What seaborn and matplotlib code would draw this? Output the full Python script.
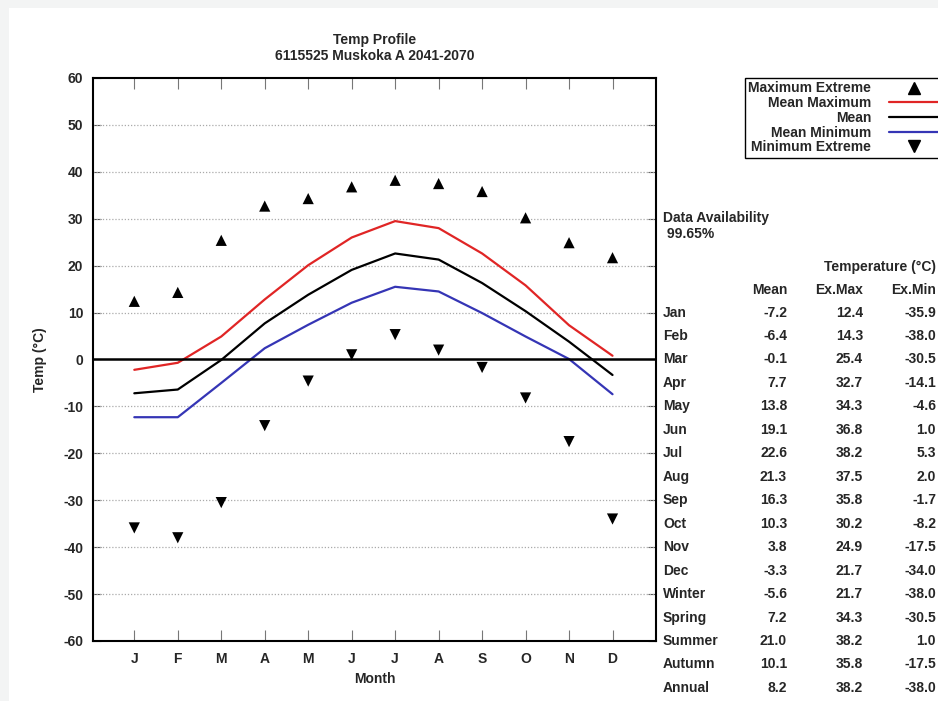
import matplotlib
matplotlib.use("Agg")
import matplotlib.pyplot as plt
import matplotlib.transforms as mtransforms
from matplotlib.lines import Line2D
from matplotlib.patches import Rectangle
import seaborn as sns
import pandas as pd

# ---- data ----
months = list(range(1, 13))
month_ticks = ["J", "F", "M", "A", "M", "J", "J", "A", "S", "O", "N", "D"]
mean_max = [-2.2, -0.7, 4.9, 12.8, 20.1, 26.0, 29.5, 28.0, 22.6, 15.8, 7.3, 0.8]
mean = [-7.2, -6.4, -0.1, 7.7, 13.8, 19.1, 22.6, 21.3, 16.3, 10.3, 3.8, -3.3]
mean_min = [-12.3, -12.3, -5.0, 2.4, 7.4, 12.1, 15.5, 14.5, 9.9, 4.9, 0.1, -7.4]
ex_max = [12.4, 14.3, 25.4, 32.7, 34.3, 36.8, 38.2, 37.5, 35.8, 30.2, 24.9, 21.7]
ex_min = [-35.9, -38.0, -30.5, -14.1, -4.6, 1.0, 5.3, 2.0, -1.7, -8.2, -17.5, -34.0]

# table on the right
row_names = ["Jan", "Feb", "Mar", "Apr", "May", "Jun", "Jul", "Aug", "Sep",
             "Oct", "Nov", "Dec", "Winter", "Spring", "Summer", "Autumn", "Annual"]
tab_mean = ["-7.2", "-6.4", "-0.1", "7.7", "13.8", "19.1", "22.6", "21.3", "16.3",
            "10.3", "3.8", "-3.3", "-5.6", "7.2", "21.0", "10.1", "8.2"]
tab_exmax = ["12.4", "14.3", "25.4", "32.7", "34.3", "36.8", "38.2", "37.5", "35.8",
             "30.2", "24.9", "21.7", "21.7", "34.3", "38.2", "35.8", "38.2"]
tab_exmin = ["-35.9", "-38.0", "-30.5", "-14.1", "-4.6", "1.0", "5.3", "2.0", "-1.7",
             "-8.2", "-17.5", "-34.0", "-38.0", "-30.5", "1.0", "-17.5", "-38.0"]
availability = "99.65%"

df = pd.DataFrame({"month": months, "mean_max": mean_max, "mean": mean,
                   "mean_min": mean_min, "ex_max": ex_max, "ex_min": ex_min})

sns.set_style("white")
plt.rcParams["font.family"] = ["Liberation Sans", "DejaVu Sans"]
plt.rcParams["font.weight"] = "bold"
plt.rcParams["font.size"] = 10
plt.rcParams["axes.unicode_minus"] = False

W, H = 938, 701
fig = plt.figure(figsize=(W / 100, H / 100), dpi=100, facecolor="#f3f4f4")
fig.patches.append(Rectangle((9 / W, 0), 1, 1 - 8 / H, transform=fig.transFigure,
                             facecolor="white", edgecolor="none", zorder=-10))

ax = fig.add_axes([93 / W, 1 - 641 / H, (656 - 93) / W, (641 - 78) / H])
ax.set_facecolor("white")

red, blue = "#e02525", "#3535b5"
sns.lineplot(data=df, x="month", y="mean_max", color=red, lw=1.6, ax=ax)
sns.lineplot(data=df, x="month", y="mean", color="black", lw=1.6, ax=ax)
sns.lineplot(data=df, x="month", y="mean_min", color=blue, lw=1.6, ax=ax)
sns.scatterplot(data=df, x="month", y="ex_max", marker="^", color="black",
                s=65, edgecolor="none", ax=ax, zorder=5)
sns.scatterplot(data=df, x="month", y="ex_min", marker="v", color="black",
                s=65, edgecolor="none", ax=ax, zorder=5)

ax.axhline(0, color="black", lw=1.8, zorder=3)
ax.set_xlim(0.05, 13)
ax.set_ylim(-60, 60)
ax.set_yticks(range(-60, 61, 10))
ax.set_xticks(months)
ax.set_xticklabels(month_ticks)
for y in range(-50, 51, 10):
    if y != 0:
        ax.axhline(y, color="#aaaaaa", lw=0.9, ls=(0, (1, 1.5)), zorder=1)
ax.tick_params(axis="y", direction="in", left=True, right=True, length=6,
               width=0.8, color="#555555", pad=7, labelsize=10)
ax.tick_params(axis="x", direction="in", bottom=True, top=True, length=8,
               width=0.8, color="#777777", pad=8, labelsize=10)
for lab in ax.get_xticklabels() + ax.get_yticklabels():
    lab.set_fontweight("bold")
for s in ax.spines.values():
    s.set_linewidth(1.5)
    s.set_color("black")
ax.set_xlabel("Month", fontweight="bold", labelpad=4)
ax.set_ylabel("Temp (°C)", fontweight="bold", labelpad=12)

fig.text(375 / W, 1 - 48 / H, "Temp Profile\n6115525 Muskoka A 2041-2070",
         ha="center", va="center", fontsize=10, fontweight="bold", linespacing=1.15)

# legend
handles = [
    Line2D([], [], ls="none", marker="^", color="black", markersize=8),
    Line2D([], [], color=red, lw=1.6),
    Line2D([], [], color="black", lw=1.6),
    Line2D([], [], color=blue, lw=1.6),
    Line2D([], [], ls="none", marker="v", color="black", markersize=8),
]
labels = ["Maximum Extreme", "Mean Maximum", "Mean", "Mean Minimum", "Minimum Extreme"]
leg = fig.legend(handles, labels, loc="upper left",
                 bbox_to_anchor=(745 / W, 1 - 78 / H), bbox_transform=fig.transFigure,
                 markerfirst=False, frameon=True, fancybox=False, framealpha=1,
                 edgecolor="black", borderpad=0.25, labelspacing=0.05,
                 handlelength=3.5, handletextpad=1.3, borderaxespad=0,
                 prop={"weight": "bold", "size": 10})
leg.get_frame().set_linewidth(1.0)

# table, rows follow the data y scale (5 degrees per row)
tr = mtransforms.blended_transform_factory(fig.transFigure, ax.transData)
kw = dict(transform=tr, va="center", fontsize=10, fontweight="bold", clip_on=False)
xr = 936 / W
ax.text(663 / W, 30.2, "Data Availability", ha="left", **kw)
ax.text(663 / W, 26.8, " " + availability, ha="left", **kw)
ax.text(xr, 19.7, "Temperature (°C)", ha="right", **kw)
ax.text(787 / W, 14.8, "Mean", ha="right", **kw)
ax.text(863 / W, 14.8, "Ex.Max", ha="right", **kw)
ax.text(xr, 14.8, "Ex.Min", ha="right", **kw)
for i, name in enumerate(row_names):
    y = 10 - 5 * i
    ax.text(663 / W, y, name, ha="left", **kw)
    ax.text(787 / W, y, tab_mean[i], ha="right", **kw)
    ax.text(863 / W, y, tab_exmax[i], ha="right", **kw)
    ax.text(xr, y, tab_exmin[i], ha="right", **kw)

fig.savefig("out.png", dpi=100, facecolor=fig.get_facecolor())
